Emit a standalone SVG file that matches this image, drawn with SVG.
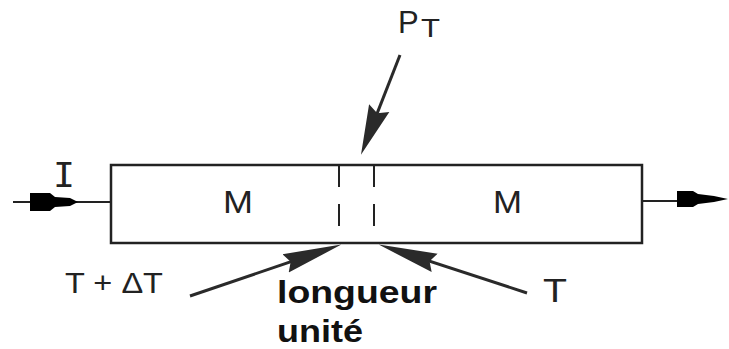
<svg xmlns="http://www.w3.org/2000/svg" width="729" height="349" viewBox="0 0 729 349">
<style>
.t{font-family:"Liberation Sans",Arial,sans-serif;fill:#222}
.b{font-family:"Liberation Sans",Arial,sans-serif;font-weight:bold;fill:#111}
.ln{stroke:#222;fill:none}
.ar{stroke:#2a2a2a;stroke-width:3;fill:none}
</style>
<defs>
<marker id="ah" markerUnits="userSpaceOnUse" markerWidth="50" markerHeight="30" viewBox="0 -12 46 24" refX="25" refY="0" orient="auto">
<path d="M0,-10 L46,0 L0,10 L5,0 Z" fill="#2a2a2a"/>
</marker>
<marker id="ah2" markerUnits="userSpaceOnUse" markerWidth="60" markerHeight="30" viewBox="0 -12 56 24" refX="35" refY="0" orient="auto">
<path d="M0,-9 L55,0 L0,9 L5,0 Z" fill="#2a2a2a"/>
</marker>
</defs>
<g id="conductor">
<rect x="111" y="165" width="531" height="78" class="ln" stroke-width="2.5"/>
<line x1="339" y1="165" x2="339" y2="243" class="ln" stroke-width="2" stroke-dasharray="22 17"/>
<line x1="374" y1="165" x2="374" y2="243" class="ln" stroke-width="2" stroke-dasharray="22 17"/>
<text class="t" x="223" y="213" font-size="32" textLength="30" lengthAdjust="spacingAndGlyphs">M</text>
<text class="t" x="493" y="213" font-size="32" textLength="29" lengthAdjust="spacingAndGlyphs">M</text>
</g>
<g id="connectors">
<line x1="13" y1="202" x2="111" y2="202" class="ln" stroke-width="2"/>
<path d="M30,193 L50,193 L55,197 L70,198 L78,202 L70,206 L55,207 L50,211 L30,211 Z" fill="#000"/>
<line x1="642" y1="201" x2="678" y2="201" class="ln" stroke-width="2"/>
<path d="M677,191 L693,191 L698,194 L714,196 L728,199 L714,202 L698,204 L693,207 L677,207 Z" fill="#000"/>
<line x1="400" y1="55" x2="369.3" y2="133.4" class="ar" marker-end="url(#ah)"/>
<line x1="190" y1="296" x2="321.1" y2="251.4" class="ar" marker-end="url(#ah2)"/>
<line x1="527" y1="293" x2="399" y2="251.2" class="ar" marker-end="url(#ah2)"/>
</g>
<g id="labels">
<text x="53" y="187" font-family="DejaVu Sans Mono,monospace" font-size="33" fill="#222" textLength="22" lengthAdjust="spacingAndGlyphs">I</text>
<text class="t" x="398" y="33" font-size="31">P</text>
<text class="t" x="421" y="37" font-size="25" textLength="19" lengthAdjust="spacingAndGlyphs">T</text>
<text class="t" x="65" y="293" font-size="29" textLength="98" lengthAdjust="spacingAndGlyphs">T + ΔT</text>
<text class="t" x="543" y="302" font-size="33" textLength="24" lengthAdjust="spacingAndGlyphs">T</text>
<text class="b" x="277" y="303" font-size="32" textLength="160" lengthAdjust="spacingAndGlyphs">longueur</text>
<text class="b" x="277" y="342" font-size="31" textLength="86" lengthAdjust="spacingAndGlyphs">unité</text>
</g>
</svg>
